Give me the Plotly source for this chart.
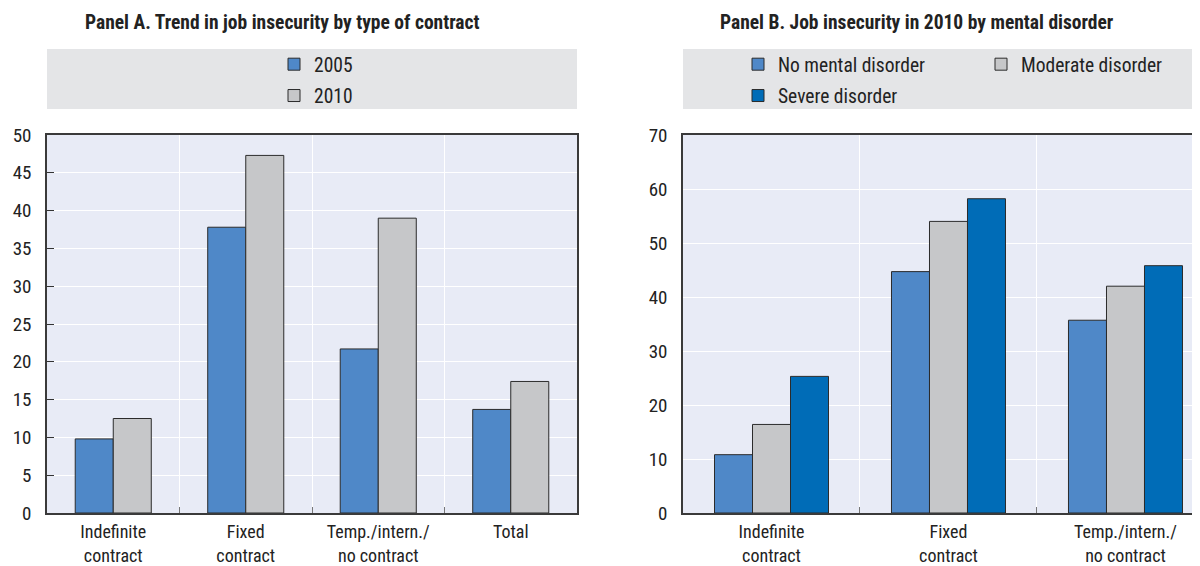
import plotly.graph_objects as go

# ---- data ----
cats_a = ["Indefinite<br>contract", "Fixed<br>contract", "Temp./intern./<br>no contract", "Total"]
y2005 = [9.8, 37.8, 21.7, 13.7]
y2010 = [12.5, 47.3, 39.0, 17.4]

cats_b = ["Indefinite<br>contract", "Fixed<br>contract", "Temp./intern./<br>no contract"]
no_mental = [10.8, 44.7, 35.7]
moderate = [16.4, 54.0, 42.0]
severe = [25.3, 58.2, 45.8]

title_a = "Panel A. Trend in job insecurity by type of contract"
title_b = "Panel B. Job insecurity in 2010 by mental disorder"

# ---- style ----
OFF = 8                     # default page body margin
W, H = 1200 - OFF, 566 - OFF
FONT = "Liberation Sans Narrow, Roboto Condensed, DejaVu Sans Condensed, Arial Narrow, sans-serif"
TXT = "#222222"
C_BLUE = "#4f88c8"
C_GREY = "#c6c7c9"
C_DARK = "#006cb7"
PLOT_BG = "#e8ebf6"
LEG_BG = "#e4e5e7"
EDGE = dict(color="#2b2b2b", width=1)


def px_x(p):  # screen px -> paper fraction
    return (p - OFF) / W


def px_y(p):
    return (H - (p - OFF)) / H


fig = go.Figure()

wa = 0.287
fig.add_trace(go.Bar(x=cats_a, y=y2005, name="2005", marker=dict(color=C_BLUE, line=EDGE),
                     width=wa, offset=-wa, xaxis="x", yaxis="y", legend="legend", legendgroup="a1"))
fig.add_trace(go.Bar(x=cats_a, y=y2010, name="2010", marker=dict(color=C_GREY, line=EDGE),
                     width=wa, offset=0, xaxis="x", yaxis="y", legend="legend", legendgroup="a2"))

wb = 0.2147
fig.add_trace(go.Bar(x=cats_b, y=no_mental, name="No mental disorder", marker=dict(color=C_BLUE, line=EDGE),
                     width=wb, offset=-1.5 * wb, xaxis="x2", yaxis="y2", legend="legend2", legendgroup="b1"))
fig.add_trace(go.Bar(x=cats_b, y=moderate, name="Moderate disorder", marker=dict(color=C_GREY, line=EDGE),
                     width=wb, offset=-0.5 * wb, xaxis="x2", yaxis="y2", legend="legend3", legendgroup="b2"))
fig.add_trace(go.Bar(x=cats_b, y=severe, name="Severe disorder", marker=dict(color=C_DARK, line=EDGE),
                     width=wb, offset=0.5 * wb, xaxis="x2", yaxis="y2", legend="legend2", legendgroup="b3"))

ydom = [px_y(513), px_y(135)]
axis_common = dict(showline=True, linecolor="#3a3a3a", linewidth=1.5, automargin=False,
                   gridcolor="white", gridwidth=1.2, zeroline=False, fixedrange=True)
ytick_font = dict(family=FONT, size=19, color=TXT)
xtick_font = dict(family=FONT, size=18, color=TXT)
leg_font = dict(family=FONT, size=19.5, color=TXT)

fig.update_layout(
    width=W, height=H, margin=dict(l=0, r=0, t=0, b=0, autoexpand=False),
    paper_bgcolor="white", plot_bgcolor=PLOT_BG,
    barmode="overlay", showlegend=True,
    font=dict(family=FONT, color=TXT),
    xaxis=dict(domain=[px_x(47), px_x(577)], type="category", tickson="boundaries", showgrid=True,
               ticks="inside", ticklen=6, tickcolor="#777777", mirror=True, range=[-0.5, 3.5],
               anchor="y", ticklabelstandoff=2, tickfont=xtick_font, **axis_common),
    yaxis=dict(domain=ydom, range=[0, 50], dtick=5, ticks="inside", ticklen=7, tickcolor="#333333",
               mirror=True, anchor="x", showgrid=True, ticklabelstandoff=10, tickfont=ytick_font,
               **axis_common),
    xaxis2=dict(domain=[px_x(683), 1.0], type="category", tickson="boundaries", showgrid=True,
                ticks="inside", ticklen=6, tickcolor="#777777", mirror=True, range=[-0.5, 2.421],
                anchor="y2", ticklabelstandoff=2, tickfont=xtick_font, **axis_common),
    yaxis2=dict(domain=ydom, range=[0, 70], dtick=10, ticks="", mirror=False, anchor="x2",
                showgrid=True, ticklabelstandoff=10, tickfont=ytick_font, **axis_common),
    legend=dict(x=px_x(274), y=px_y(45), xanchor="left", yanchor="top", bgcolor="rgba(0,0,0,0)",
                font=leg_font, tracegroupgap=3, itemclick=False),
    legend2=dict(x=px_x(738), y=px_y(45), xanchor="left", yanchor="top", bgcolor="rgba(0,0,0,0)",
                 font=leg_font, tracegroupgap=3, itemclick=False),
    legend3=dict(x=px_x(981), y=px_y(45), xanchor="left", yanchor="top", bgcolor="rgba(0,0,0,0)",
                 font=leg_font, tracegroupgap=3, itemclick=False),
    shapes=[
        dict(type="rect", xref="paper", yref="paper", x0=px_x(47), x1=px_x(577), y0=px_y(109), y1=px_y(49),
             fillcolor=LEG_BG, line=dict(width=0), layer="below"),
        dict(type="rect", xref="paper", yref="paper", x0=px_x(683), x1=1.0, y0=px_y(109), y1=px_y(49),
             fillcolor=LEG_BG, line=dict(width=0), layer="below"),
    ],
    annotations=[
        dict(text="<b>" + title_a + "</b>", xref="paper", yref="paper", x=px_x(282), y=px_y(22),
             xanchor="center", yanchor="middle", showarrow=False,
             font=dict(family=FONT, size=19.5, color=TXT)),
        dict(text="<b>" + title_b + "</b>", xref="paper", yref="paper", x=px_x(917), y=px_y(22),
             xanchor="center", yanchor="middle", showarrow=False,
             font=dict(family=FONT, size=19.5, color=TXT)),
    ],
)

fig.write_html("out.html")
